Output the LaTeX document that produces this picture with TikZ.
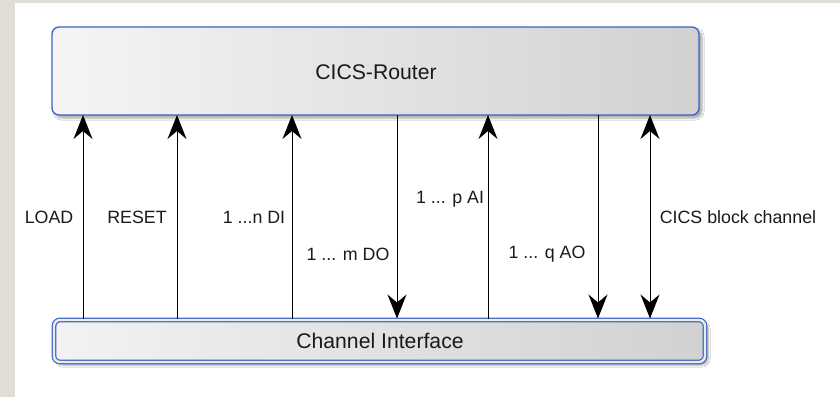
\documentclass[tikz,border=0pt]{standalone}
\usepackage{fontspec}
\setmainfont{Liberation Sans}
\usetikzlibrary{arrows.meta,shadows.blur}
\definecolor{bgstrip}{HTML}{DFDDD6}
\definecolor{boxblue}{HTML}{3B63C4}
\definecolor{txt}{HTML}{1A1A1A}
\tikzset{
  blockbox/.style={rounded corners=7pt, draw=boxblue, line width=1.3pt,
    left color=black!4, right color=black!18,
    blur shadow={shadow xshift=3pt, shadow yshift=-3pt, shadow blur steps=8, shadow opacity=35}},
  ifacebox/.style={rounded corners=6pt, draw=boxblue, double=black!8, double distance=2.4pt, line width=1.2pt,
    left color=black!5, right color=black!18,
    blur shadow={shadow xshift=3pt, shadow yshift=-3pt, shadow blur steps=8, shadow opacity=35}},
  sig/.style={line width=1pt, draw=black},
  sigtip/.style={-{Stealth[length=24pt,width=19pt,inset=8pt]}},
  sigbitip/.style={{Stealth[length=24pt,width=19pt,inset=8pt]}-{Stealth[length=24pt,width=19pt,inset=8pt]}},
  lbl/.style={text=txt, font=\fontsize{17.8}{21}\selectfont, inner sep=0pt},
  ttl/.style={text=txt, font=\fontsize{21.2}{25}\selectfont, inner sep=0pt}
}
\begin{document}
\begin{tikzpicture}[x=1pt,y=-1pt]
\useasboundingbox (0,0) rectangle (840,397);
\fill[white] (0,0) rectangle (840,397);
\fill[bgstrip] (0,0) rectangle (15,397);
\fill[bgstrip] (0,0) rectangle (840,3);
% boxes
\path[blockbox] (52,27) rectangle (699,115);
\path[ifacebox] (54,320) rectangle (705,362);
\node[ttl] (router) at (376,72) {CICS-Router};
\node[ttl] (iface) at (380,341) {Channel Interface};
% coordinates
\foreach \n/\x in {load/83,reset/177,di/292,do/397,ai/488,ao/598,blk/650}{
  \coordinate (\n t) at (\x,115);
  \coordinate (\n b) at (\x,318.5);
}
\draw[sig,sigtip] (loadb) -- (loadt);
\draw[sig,sigtip] (resetb) -- (resett);
\draw[sig,sigtip] (dib) -- (dit);
\draw[sig,sigtip] (dot) -- (dob);
\draw[sig,sigtip] (aib) -- (ait);
\draw[sig,sigtip] (aot) -- (aob);
\draw[sig,sigbitip] (blkb) -- (blkt);
% labels
\node[lbl] (l1) at (49,217) {LOAD};
\node[lbl] (l2) at (137,217) {RESET};
\node[lbl] (l3) at (254,217) {1 ...n DI};
\node[lbl] (l4) at (348,254) {1 ... m DO};
\node[lbl] (l5) at (450,199) {1 ... p AI};
\node[lbl] (l6) at (547,254) {1 ... q AO};
\node[lbl] (l7) at (738,217) {CICS block channel};
\end{tikzpicture}
\end{document}
